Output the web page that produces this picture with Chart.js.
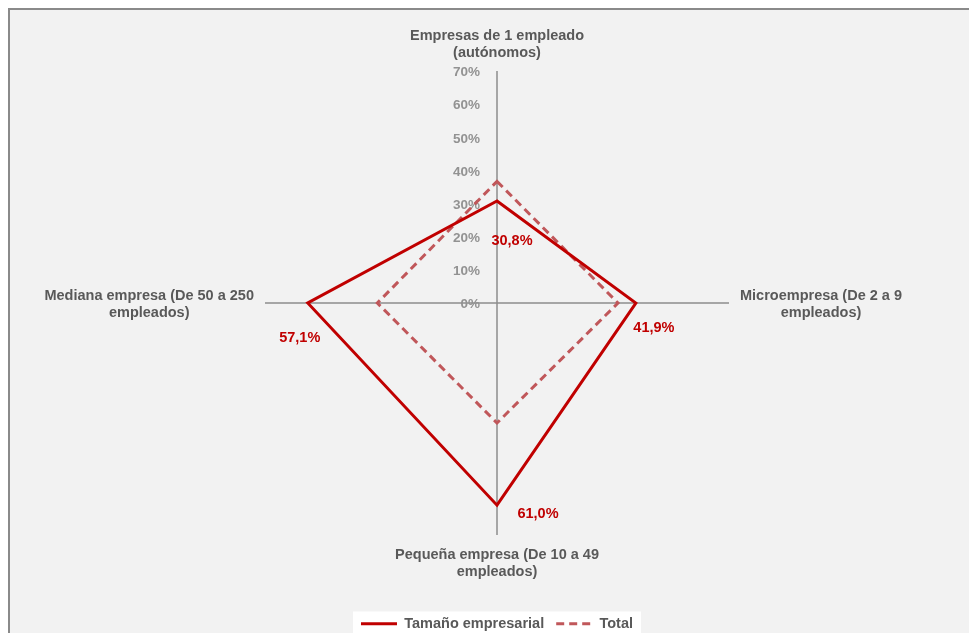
<!DOCTYPE html>
<html>
<head>
<meta charset="utf-8">
<script src="https://cdn.jsdelivr.net/npm/chart.js@4"></script>
<style>
  body { margin: 0; background: #fff; }
  #frame { position: absolute; left: 8px; top: 8px; width: 961px; height: 625px;
           background: #f2f2f2; border-left: 2px solid #8a8a8a; border-top: 2px solid #8a8a8a; box-sizing: border-box; }
  #radar { position: absolute; left: 0; top: 0; }
</style>
</head>
<body>
<div id="frame"></div>
<canvas id="radar" width="969" height="633"></canvas>
<script>
// categorias (una linea por elemento)
const categorias = [
    ['Empresas de 1 empleado', '(autónomos)'],
    ['Microempresa (De 2 a 9', 'empleados)'],
    ['Pequeña empresa (De 10 a 49', 'empleados)'],
    ['Mediana empresa (De 50 a 250', 'empleados)']
];
const tamanoEmpresarial = [30.8, 41.9, 61.0, 57.1];
const total = [36.7, 36.5, 36.2, 36.1];
const escalaMin = 0;
const escalaMax = 70;
const escalaPaso = 10;

const FONT = "Arial, 'Liberation Sans', sans-serif";
const fmt = v => v.toFixed(1).replace('.', ',') + '%';

// etiquetas de eje, de ticks y de valores
const radarText = {
    id: 'radarText',
    beforeDatasetsDraw(chart) {
        const s = chart.scales.r;
        const ctx = chart.ctx;
        ctx.save();
        ctx.font = 'bold 13.5px ' + FONT;
        ctx.fillStyle = '#929292';
        ctx.textAlign = 'right';
        ctx.textBaseline = 'middle';
        s.ticks.forEach(t => {
            const d = s.getDistanceFromCenterForValue(t.value);
            ctx.fillText(t.value + '%', s.xCenter - 17, s.yCenter - d + 1.5);
        });

        ctx.font = 'bold 14.5px ' + FONT;
        ctx.fillStyle = '#595959';
        const lh = 17;
        categorias.forEach((lines, i) => {
            ctx.textAlign = 'center';
            const w = Math.max(...lines.map(l => ctx.measureText(l).width));
            if (i === 0) {
                const p = s.getPointPosition(i, s.drawingArea + 18);
                lines.forEach((l, k) => ctx.fillText(l, p.x, p.y - (lines.length - 1 - k) * lh));
            } else if (i === 2) {
                const p = s.getPointPosition(i, s.drawingArea + 20);
                lines.forEach((l, k) => ctx.fillText(l, p.x, p.y + k * lh));
            } else {
                const p = s.getPointPosition(i, s.drawingArea + 11);
                const cx = i === 1 ? p.x + w / 2 : p.x - w / 2;
                const y0 = p.y - (lines.length - 1) * lh / 2 + 1;
                lines.forEach((l, k) => ctx.fillText(l, cx, y0 + k * lh));
            }
        });
        ctx.restore();
    },
    afterDatasetsDraw(chart) {
        const ctx = chart.ctx;
        const meta = chart.getDatasetMeta(0);
        const offs = [[15, 40], [18, 25], [41, 9], [-8, 35]];
        ctx.save();
        ctx.font = 'bold 14.5px ' + FONT;
        ctx.fillStyle = '#c00000';
        ctx.textAlign = 'center';
        ctx.textBaseline = 'middle';
        meta.data.forEach((pt, i) => {
            ctx.fillText(fmt(tamanoEmpresarial[i]), pt.x + offs[i][0], pt.y + offs[i][1]);
        });
        ctx.restore();
    },
    beforeDraw(chart) {
        const lg = chart.legend;
        if (!lg || !lg.legendHitBoxes.length) return;
        const hb = lg.legendHitBoxes;
        const left = Math.min(...hb.map(h => h.left)) - 8;
        const right = Math.max(...hb.map(h => h.left + h.width)) + 8;
        const ctx = chart.ctx;
        ctx.save();
        ctx.fillStyle = '#ffffff';
        ctx.fillRect(left, hb[0].top - 5, right - left, chart.height - hb[0].top + 5);
        ctx.restore();
    }
};

new Chart(document.getElementById('radar'), {
    type: 'radar',
    data: {
        labels: categorias,
        datasets: [{
            label: 'Tamaño empresarial',
            data: tamanoEmpresarial,
            borderColor: '#c00000',
            backgroundColor: 'rgba(0,0,0,0)',
            borderWidth: 3,
            pointRadius: 0,
            fill: false
        }, {
            label: 'Total',
            data: total,
            borderColor: '#c0575a',
            backgroundColor: 'rgba(0,0,0,0)',
            borderWidth: 3,
            borderDash: [8, 5],
            pointRadius: 0,
            fill: false
        }]
    },
    options: {
        responsive: false,
        animation: false,
        layout: { padding: { left: 265, right: 240, top: 2, bottom: -8 } },
        scales: {
            r: {
                min: escalaMin,
                max: escalaMax,
                ticks: { stepSize: escalaPaso, display: false },
                grid: { display: false },
                angleLines: { display: true, color: '#8c8c8c', lineWidth: 1.5 },
                pointLabels: { display: false }
            }
        },
        plugins: {
            legend: {
                position: 'bottom',
                labels: {
                    usePointStyle: true,
                    pointStyle: 'line',
                    pointStyleWidth: 36,
                    padding: 12,
                    color: '#595959',
                    font: { family: FONT, size: 14.5, weight: 'bold' },
                    generateLabels(chart) {
                        const items = Chart.defaults.plugins.legend.labels.generateLabels(chart);
                        items.forEach(it => {
                            const ds = chart.data.datasets[it.datasetIndex];
                            it.lineDash = ds.borderDash || [];
                            it.lineWidth = ds.borderWidth;
                            it.strokeStyle = ds.borderColor;
                        });
                        return items;
                    }
                }
            },
            tooltip: { enabled: false }
        }
    },
    plugins: [radarText]
});
</script>
</body>
</html>
